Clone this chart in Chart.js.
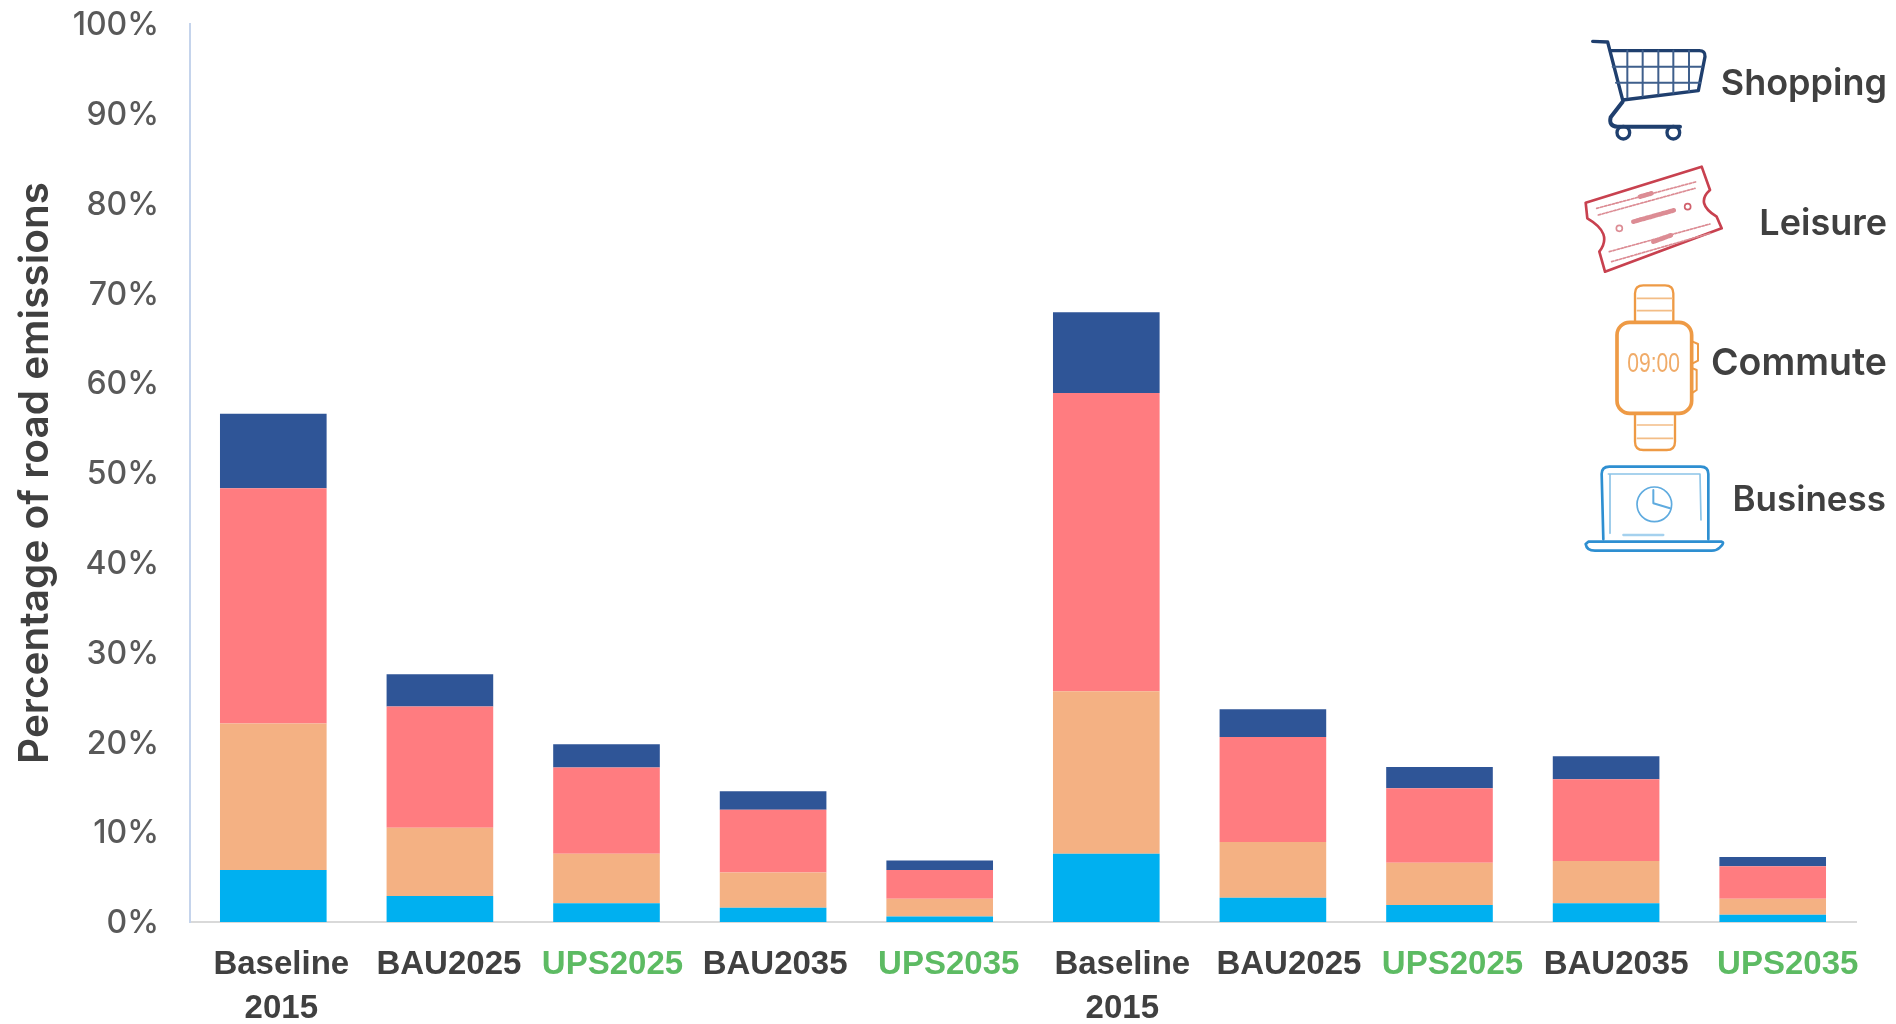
<!DOCTYPE html>
<html><head><meta charset="utf-8">
<script src="https://cdn.jsdelivr.net/npm/chart.js@4"></script>
<style>
html,body{margin:0;padding:0;background:#fff;width:1896px;height:1024px;overflow:hidden}
#wrap{position:relative;width:1896px;height:1024px}
canvas{position:absolute;left:0;top:0}
svg{position:absolute;left:0;top:0;pointer-events:none;filter:blur(.5px)}
.lg{position:absolute;right:9px;font:600 36px Inter,sans-serif;color:#404040;transform:translateY(-50%);white-space:nowrap}
</style></head><body>
<div id="wrap"><canvas id="c" width="1896" height="1024"></canvas>
<svg width="1896" height="1024" fill="none">
<g transform="translate(1540,20) scale(.33333)" stroke="#1f3f6e" stroke-linecap="round" stroke-linejoin="round">
<path d="M158 64L203 66L248 240L475 212L495 110Q496 92 478 92L215 92" stroke-width="10"/>
<path d="M218 140L485 140M228 188L480 188M262 92L262 232M308 92L308 228M355 92L355 222M400 92L400 218M447 92L447 214" stroke-width="6" stroke="#3f5f8c"/>
<path d="M248 245L212 292Q205 318 232 320L420 320" stroke-width="12"/>
<circle cx="250" cy="338" r="19" stroke-width="10"/><circle cx="400" cy="338" r="19" stroke-width="10"/>
<g stroke="#c8414f" stroke-width="8">
<path d="M137 548L485 440L510 510Q465 550 530 590L545 625L195 755L178 695Q220 640 142 595Z"/>
<path d="M170 565L470 485M175 585L465 505M208 695L510 612M215 725L510 640" stroke="#dc8c94" stroke-width="5" stroke-dasharray="7 5"/>
<path d="M280 605L405 570M300 530L335 520M340 665L395 645" stroke="#dc8c94" stroke-width="14" stroke-dasharray="6 4"/>
<circle cx="238" cy="625" r="9" stroke="#dc8c94" stroke-width="5"/><circle cx="443" cy="560" r="9" stroke="#d0606c" stroke-width="5"/>
</g></g>
<g transform="translate(1540,270) scale(.33333)" stroke="#ee9a45" stroke-linejoin="round">
<rect x="231" y="157" width="224" height="273" rx="38" stroke-width="11"/>
<path d="M285 155L285 70Q285 46 310 46L375 46Q400 46 400 70L400 155M285 432L285 515Q285 540 310 540L380 540Q405 540 405 515L405 432" stroke-width="7"/>
<path d="M290 85L398 85M290 122L398 122M290 465L400 465M290 505L400 505" stroke-width="5" stroke="#f3bd86"/>
<path d="M458 215L474 222L474 272L458 280M458 295L470 300L470 360L458 368" stroke-width="6"/>
<text x="262" y="306" textLength="158" lengthAdjust="spacingAndGlyphs" font-family="Liberation Sans" font-size="82" fill="#f0ab68" stroke="none">09:00</text>
</g>
<g transform="translate(1540,270) scale(.33333)" stroke="#2e8fd1" stroke-linecap="round" stroke-linejoin="round">
<path d="M190 808L185 612Q185 590 208 590L482 590Q505 590 505 612L505 808" stroke-width="8"/>
<path d="M205 612L480 612L483 750M210 612L210 790" stroke-width="5" stroke="#8cc4e8"/>
<path d="M145 815L545 815Q555 818 540 832Q530 842 515 842L165 842Q140 842 137 822Z" stroke-width="8"/>
<path d="M250 795L370 795" stroke-width="7" stroke="#a5d1ee"/>
<circle cx="343" cy="703" r="52" stroke-width="5" stroke="#5fabdf"/>
<path d="M340 660L340 700L390 715" stroke-width="6" stroke="#5fabdf"/>
</g>
</svg>
<div class="lg" style="top:82px;font-size:36px">Shopping</div>
<div class="lg" style="top:222px">Leisure</div>
<div class="lg" style="top:361px;font-size:37.5px">Commute</div>
<div class="lg" style="top:498px;font-size:35px;right:10px">Business</div>
</div>
<script>
const categories = [["Baseline","2015"],"BAU2025","UPS2025","BAU2035","UPS2035",["Baseline","2015"],"BAU2025","UPS2025","BAU2035","UPS2035"];
const business = [5.8,2.9,2.1,1.6,0.6,7.6,2.7,1.9,2.1,0.8];
const commute  = [16.3,7.6,5.5,3.9,2.0,18.1,6.2,4.7,4.7,1.8];
const leisure  = [26.2,13.5,9.6,7.0,3.2,33.2,11.7,8.3,9.1,3.6];
const shopping = [8.3,3.6,2.6,2.05,1.05,9.0,3.1,2.35,2.55,1.05];
const labelShift = [8,9,6,2,9,16,16,13,10,15];
const tickDrop = 1.5;
const labelColors = ["#404040","#404040","#5dbb63","#404040","#5dbb63","#404040","#404040","#5dbb63","#404040","#5dbb63"];

const shiftLabels = {
  id:'shiftLabels',
  beforeDraw(chart){
    const items = chart.scales.x.getLabelItems(chart.chartArea);
    if(!items.__done){
      items.forEach((it,i)=>{ it.options.translation[0] += labelShift[i]; });
      items.__done = true;
    }
    const yItems = chart.scales.y.getLabelItems(chart.chartArea);
    if(!yItems.__done){
      yItems.forEach(it=>{ it.options.translation[1] += tickDrop; });
      yItems.__done = true;
    }
  }
};
const ds = (label,data,backgroundColor)=>({label,data,backgroundColor,borderWidth:0,categoryPercentage:.64,barPercentage:1});
new Chart(document.getElementById('c'),{
  type:'bar',
  data:{labels:categories,datasets:[
    ds('Business',business,'#00b0f0'),
    ds('Commute',commute,'#f4b183'),
    ds('Leisure',leisure,'#ff7c80'),
    ds('Shopping',shopping,'#2f5597')]},
  plugins:[shiftLabels],
  options:{
    responsive:false,animation:false,
    layout:{padding:{left:0,right:40,top:0,bottom:0}},
    plugins:{legend:{display:false},tooltip:{enabled:false}},
    scales:{
      x:{stacked:true,
        afterFit(s){s.height=102},
        grid:{display:false,drawTicks:false},
        border:{color:'#d9d9d9',width:2},
        ticks:{color:c=>labelColors[c.index],maxRotation:0,autoSkip:false,padding:20,
          font:{family:'"Liberation Sans"',size:33,weight:'bold',lineHeight:1.36}}},
      y:{stacked:true,min:0,max:100,
        afterFit(s){s.width=190;s.paddingTop=24;s.paddingBottom=0},
        grid:{display:false,drawTicks:false},
        border:{color:'#c5d4ec',width:2},
        title:{display:true,text:'Percentage of road emissions',color:'#404040',padding:{top:12,bottom:0},
          font:{family:'Inter',size:40.5,weight:'600'}},
        ticks:{stepSize:10,padding:31,color:'#595959',callback:v=>v+'%',
          font:{family:'Inter',size:32,weight:'500'}}}
    }
  }
});
</script></body></html>
